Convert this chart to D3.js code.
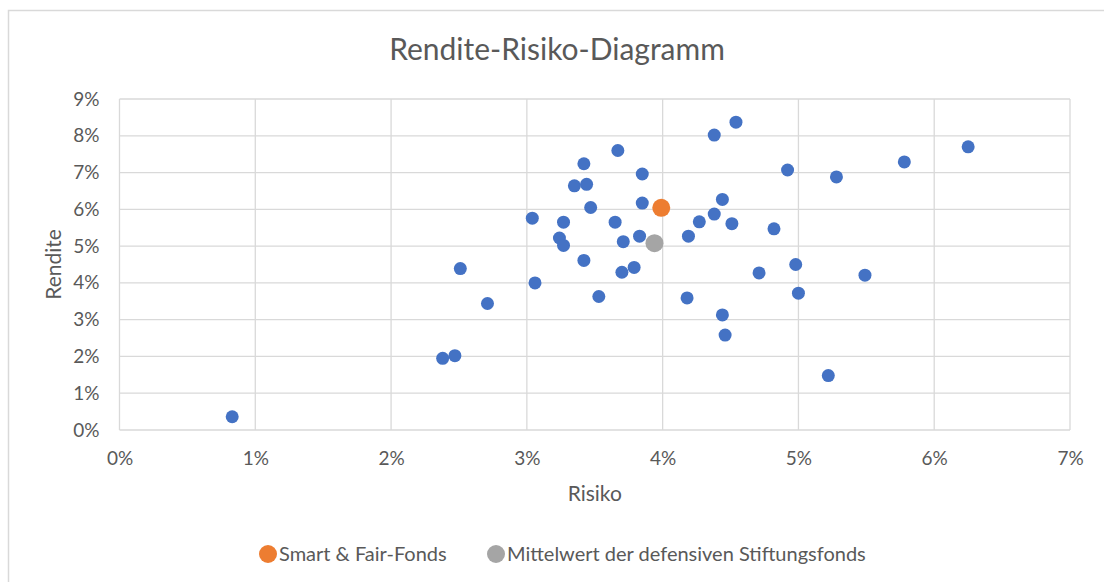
<!DOCTYPE html>
<html>
<head>
<meta charset="utf-8">
<script src="https://cdn.jsdelivr.net/npm/d3@7"></script>
<style>
  body { margin: 0; background: #fff; }
  text { font-family: Lato, "Open Sans", sans-serif; fill: #595959; }
</style>
</head>
<body>
<div id="chart"></div>
<script>
// Risiko (x, %) and Rendite (y, %) of the defensive foundation funds
var risiko = [0.83, 2.38, 2.47, 2.51, 2.71, 3.04, 3.06, 3.24, 3.27, 3.27, 3.35, 3.42, 3.42, 3.44,
              3.47, 3.53, 3.65, 3.67, 3.70, 3.71, 3.79, 3.83, 3.85, 3.85, 4.18, 4.19, 4.27, 4.38,
              4.38, 4.44, 4.44, 4.46, 4.51, 4.54, 4.71, 4.82, 4.92, 4.98, 5.00, 5.22, 5.28, 5.49,
              5.78, 6.25];
var rendite = [0.36, 1.95, 2.02, 4.39, 3.44, 5.76, 4.00, 5.22, 5.65, 5.02, 6.64, 7.24, 4.61, 6.68,
               6.05, 3.63, 5.65, 7.60, 4.29, 5.12, 4.42, 5.27, 6.96, 6.17, 3.59, 5.27, 5.66, 5.87,
               8.02, 6.27, 3.13, 2.58, 5.61, 8.37, 4.27, 5.47, 7.07, 4.50, 3.72, 1.48, 6.88, 4.21,
               7.29, 7.70];
var smartFair = {name: "Smart & Fair-Fonds", risiko: 3.99, rendite: 6.04};
var mittelwert = {name: "Mittelwert der defensiven Stiftungsfonds", risiko: 3.94, rendite: 5.08};
var xTicks = [0, 1, 2, 3, 4, 5, 6, 7];
var yTicks = [0, 1, 2, 3, 4, 5, 6, 7, 8, 9];

var width = 1104, height = 582;
var margin = {left: 119.5, right: 34, top: 99, bottom: 152};
var chartCenter = 557;

var svg = d3.select("#chart").append("svg")
    .attr("width", width)
    .attr("height", height);

// chart frame
svg.append("rect")
    .attr("x", 8.5).attr("y", 10.5)
    .attr("width", width + 20).attr("height", height + 20)
    .attr("fill", "none").attr("stroke", "#d9d9d9").attr("stroke-width", 1.5);

var x = d3.scaleLinear().domain([0, 7]).range([margin.left, width - margin.right]);
var y = d3.scaleLinear().domain([0, 9]).range([height - margin.bottom, margin.top]);

// gridlines
var grid = svg.append("g").attr("stroke", "#d9d9d9").attr("stroke-width", 1.3);
grid.selectAll(".gx").data(xTicks).enter().append("line")
    .attr("x1", function(d) { return x(d); }).attr("x2", function(d) { return x(d); })
    .attr("y1", y(0)).attr("y2", y(9));
grid.selectAll(".gy").data(yTicks).enter().append("line")
    .attr("x1", x(0)).attr("x2", x(7))
    .attr("y1", function(d) { return y(d); }).attr("y2", function(d) { return y(d); });

// axes
var xAxis = svg.append("g")
    .attr("transform", "translate(0," + y(0) + ")")
    .call(d3.axisBottom(x).tickValues(xTicks).tickSize(0).tickPadding(22)
          .tickFormat(function(d) { return d + "%"; }));
var yAxis = svg.append("g")
    .attr("transform", "translate(" + x(0) + ",0)")
    .call(d3.axisLeft(y).tickValues(yTicks).tickSize(0).tickPadding(20)
          .tickFormat(function(d) { return d + "%"; }));
[xAxis, yAxis].forEach(function(a) {
  a.select(".domain").remove();
  a.selectAll("text").style("font-size", "19px").attr("fill", "#595959")
    .style("font-family", "Lato, 'Open Sans', sans-serif");
});

// title and axis titles
svg.append("text")
    .attr("x", chartCenter).attr("y", 60)
    .attr("text-anchor", "middle").style("font-size", "30px")
    .text("Rendite-Risiko-Diagramm");
svg.append("text")
    .attr("x", (x(0) + x(7)) / 2).attr("y", 501)
    .attr("text-anchor", "middle").style("font-size", "21px")
    .text("Risiko");
svg.append("text")
    .attr("transform", "translate(61," + (y(0) + y(9)) / 2 + ") rotate(-90)")
    .attr("text-anchor", "middle").style("font-size", "21px")
    .text("Rendite");

// points
svg.append("g").selectAll("circle")
    .data(risiko.map(function(r, i) { return {risiko: r, rendite: rendite[i]}; }))
    .enter().append("circle")
    .attr("cx", function(d) { return x(d.risiko); })
    .attr("cy", function(d) { return y(d.rendite); })
    .attr("r", 6.5)
    .attr("fill", "#4472c4");

var special = [
  {d: mittelwert, color: "#a5a5a5"},
  {d: smartFair, color: "#ed7d31"}
];
svg.append("g").selectAll("circle")
    .data(special).enter().append("circle")
    .attr("cx", function(s) { return x(s.d.risiko); })
    .attr("cy", function(s) { return y(s.d.rendite); })
    .attr("r", 9)
    .attr("fill", function(s) { return s.color; });

// legend
var legendItems = [
  {label: smartFair.name, color: "#ed7d31", lx: 268},
  {label: mittelwert.name, color: "#a5a5a5", lx: 496}
];
var legend = svg.append("g");
legendItems.forEach(function(it) {
  legend.append("circle")
      .attr("cx", it.lx).attr("cy", 554).attr("r", 9)
      .attr("fill", it.color);
  legend.append("text")
      .attr("x", it.lx + 11).attr("y", 561)
      .style("font-size", "20px")
      .text(it.label);
});
</script>
</body>
</html>
